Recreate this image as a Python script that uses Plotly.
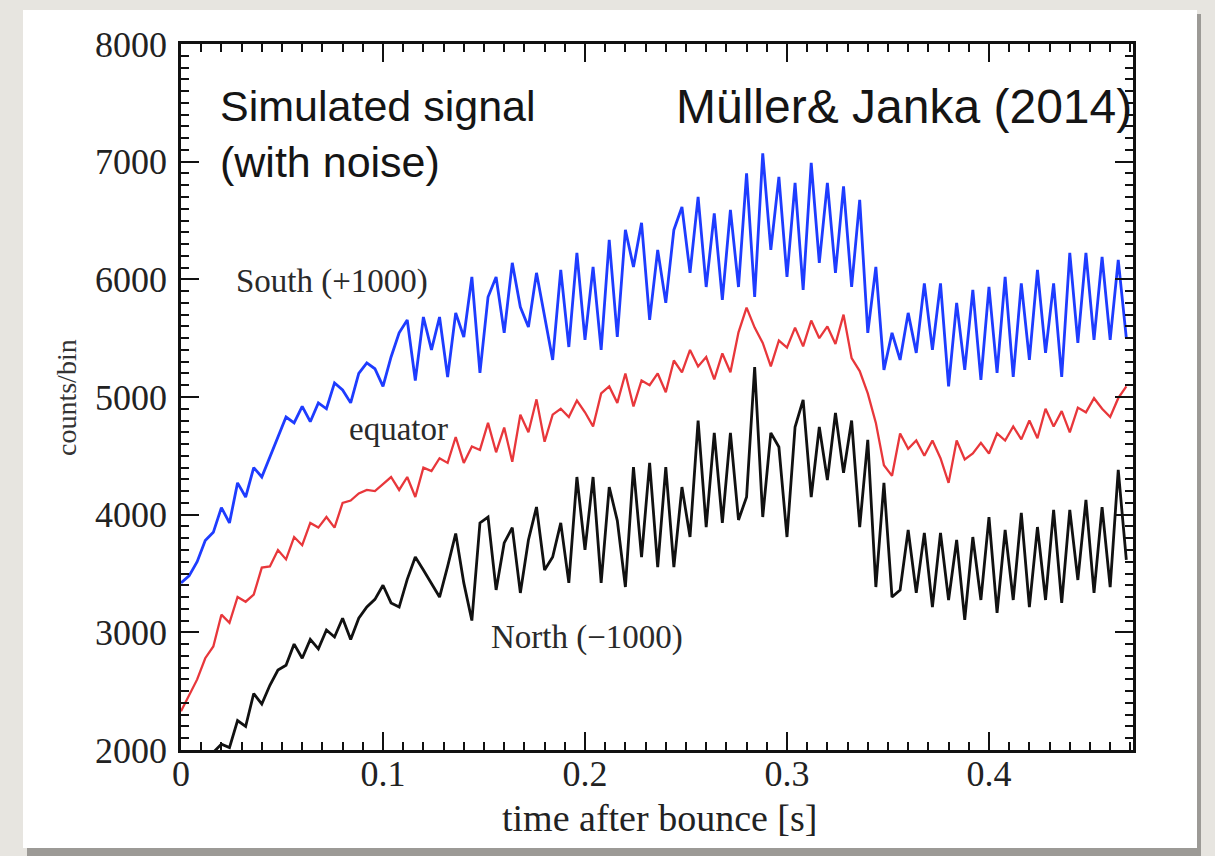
import plotly.graph_objects as go

# ---------------- data ----------------
dt = 0.004
n_pts = 118
time_s = [round(i * dt, 3) for i in range(n_pts)]

south_plus1000 = [
    3420, 3480, 3600, 3780, 3850, 4060, 3930, 4270, 4150, 4400,
    4320, 4490, 4660, 4830, 4780, 4920, 4790, 4950, 4900, 5120,
    5060, 4950, 5200, 5290, 5240, 5090, 5340, 5545, 5655, 5140,
    5680, 5400, 5680, 5170, 5715, 5510, 6020, 5205, 5850, 6020,
    5545, 6140, 5765, 5595, 6055, 5700, 5315, 6080, 5425, 6225,
    5485, 6105, 5400, 6335, 5510, 6420, 6105, 6480, 5655, 6250,
    5800, 6420, 6615, 6055, 6700, 5935, 6560, 5825, 6590, 5935,
    6900, 5850, 7070, 6250, 6870, 6020, 6820, 5910, 6990, 6140,
    6820, 6055, 6790, 5935, 6675, 5545, 6105, 5230, 5545, 5315,
    5715, 5375, 5965, 5400, 5965, 5090, 5800, 5230, 5910, 5145,
    5935, 5205, 6020, 5170, 5965, 5315, 6080, 5375, 5965, 5170,
    6225, 5460, 6225, 5485, 6190, 5485, 6165, 5500,
]

equator = [
    2330, 2470, 2600, 2780, 2880, 3150, 3080, 3300, 3260, 3320,
    3550, 3560, 3700, 3620, 3810, 3740, 3930, 3890, 3980, 3890,
    4100, 4120, 4180, 4210, 4200, 4260, 4320, 4210, 4320, 4150,
    4400, 4370, 4480, 4440, 4660, 4440, 4580, 4550, 4780, 4530,
    4740, 4450, 4850, 4700, 4980, 4620, 4850, 4900, 4830, 4970,
    4870, 4750, 5030, 5090, 4950, 5200, 4920, 5140, 5100, 5200,
    5040, 5310, 5210, 5400, 5260, 5340, 5150, 5370, 5210, 5550,
    5760, 5590, 5460, 5260, 5480, 5420, 5590, 5430, 5650, 5500,
    5600, 5450, 5700, 5330, 5220, 5030, 4780, 4420, 4330, 4690,
    4560, 4630, 4500, 4630, 4480, 4270, 4630, 4470, 4520, 4610,
    4520, 4690, 4630, 4750, 4640, 4800, 4650, 4900, 4750, 4880,
    4700, 4910, 4870, 4990, 4900, 4830, 4990, 5090,
]

north_minus1000 = [
    1400, 1600, 1750, 1900, 1980, 2050, 2020, 2250, 2200, 2480,
    2390, 2550, 2680, 2720, 2900, 2780, 2940, 2860, 3020, 2960,
    3120, 2940, 3120, 3215, 3280, 3400, 3250, 3215, 3450, 3640,
    3530, 3420, 3300, 3560, 3840, 3420, 3100, 3930, 3980, 3360,
    3760, 3890, 3335, 3785, 4065, 3530, 3640, 3930, 3420, 4320,
    3700, 4320, 3420, 4235, 3950, 3385, 4405, 3640, 4440, 3555,
    4405, 3555, 4235, 3810, 4800, 3895, 4695, 3930, 4695, 3955,
    4150, 5255, 3980, 4695, 4575, 3810, 4745, 4975, 4150, 4745,
    4295, 4865, 4355, 4800, 3895, 4635, 3385, 4270, 3300, 3360,
    3870, 3335, 3845, 3215, 3845, 3275, 3785, 3105, 3810, 3275,
    3980, 3165, 3870, 3275, 4015, 3215, 3895, 3275, 4040, 3250,
    4040, 3445, 4125, 3335, 4065, 3385, 4380, 3615,
]

x_tickvals = [0, 0.1, 0.2, 0.3, 0.4]
x_ticktext = ["0", "0.1", "0.2", "0.3", "0.4"]
y_tickvals = [2000, 3000, 4000, 5000, 6000, 7000, 8000]
y_ticktext = ["2000", "3000", "4000", "5000", "6000", "7000", "8000"]

# ---------------- layout geometry ----------------
W, H = 1215, 856
L, R, T, B = 181, 1133, 44, 750


def px(x):
    return (x - L) / (R - L)


def py(y):
    return (B - y) / (B - T)


fig = go.Figure()
fig.add_trace(go.Scatter(x=time_s, y=north_minus1000, mode="lines",
                         line=dict(color="#111111", width=2.8), showlegend=False))
fig.add_trace(go.Scatter(x=time_s, y=equator, mode="lines",
                         line=dict(color="#e8373b", width=2.3), showlegend=False))
fig.add_trace(go.Scatter(x=time_s, y=south_plus1000, mode="lines",
                         line=dict(color="#1e3cff", width=2.8), showlegend=False))

serif = "Liberation Serif"
sans = "Liberation Sans"

axis_common = dict(
    showline=True, linecolor="#111111", linewidth=2.5, mirror="ticks",
    ticks="inside", ticklen=18, tickwidth=2, tickcolor="#111111",
    showgrid=False, zeroline=False,
    tickfont=dict(family=serif, size=36, color="#222222"),
)

fig.update_layout(
    width=W, height=H,
    margin=dict(l=L, r=W - R, t=T, b=H - B),
    paper_bgcolor="#e7e5e0",
    plot_bgcolor="white",
    xaxis=dict(range=[0, 0.4713], tickmode="array", tickvals=x_tickvals,
               ticktext=x_ticktext, ticklabelstandoff=-10,
               minor=dict(ticks="inside", ticklen=8, tickwidth=2,
                          tickcolor="#111111", dtick=0.01, tick0=0),
               **axis_common),
    yaxis=dict(range=[2000, 8000], tickmode="array", tickvals=y_tickvals,
               ticktext=y_ticktext, ticklabelstandoff=4,
               minor=dict(ticks="inside", ticklen=8, tickwidth=2,
                          tickcolor="#111111", dtick=100, tick0=0),
               **axis_common),
    shapes=[
        dict(type="rect", xref="paper", yref="paper", layer="below",
             x0=px(27), x1=px(1201), y0=py(14), y1=py(856),
             fillcolor="#9c9a96", line=dict(width=0)),
        dict(type="rect", xref="paper", yref="paper", layer="below",
             x0=px(23), x1=px(1197), y0=py(10), y1=py(848),
             fillcolor="white", line=dict(width=0)),
    ],
    annotations=[
        dict(text="Simulated signal<br>(with noise)", xref="paper", yref="paper",
             x=px(218), y=py(80), xanchor="left", yanchor="top", align="left",
             showarrow=False, font=dict(family=sans, size=43, color="#151515")),
        dict(text="Müller& Janka (2014)", xref="paper", yref="paper",
             x=px(1134), y=py(78), xanchor="right", yanchor="top",
             showarrow=False, font=dict(family=sans, size=48, color="#151515")),
        dict(text="South (+1000)", xref="paper", yref="paper",
             x=px(234), y=py(281), xanchor="left", yanchor="middle",
             showarrow=False, font=dict(family=serif, size=33, color="#2a2a2a")),
        dict(text="equator", xref="paper", yref="paper",
             x=px(347), y=py(429), xanchor="left", yanchor="middle",
             showarrow=False, font=dict(family=serif, size=33, color="#2a2a2a")),
        dict(text="North (\u22121000)", xref="paper", yref="paper",
             x=px(489), y=py(637), xanchor="left", yanchor="middle",
             showarrow=False, font=dict(family=serif, size=33, color="#2a2a2a")),
        dict(text="time after bounce [s]", xref="paper", yref="paper",
             x=px(659), y=py(818), xanchor="center", yanchor="middle",
             showarrow=False, font=dict(family=serif, size=38, color="#222222")),
        dict(text="counts/bin", xref="paper", yref="paper", textangle=-90,
             x=px(66), y=py(398), xanchor="center", yanchor="middle",
             showarrow=False, font=dict(family=serif, size=28, color="#333333")),
    ],
)

fig.write_html("out.html")
